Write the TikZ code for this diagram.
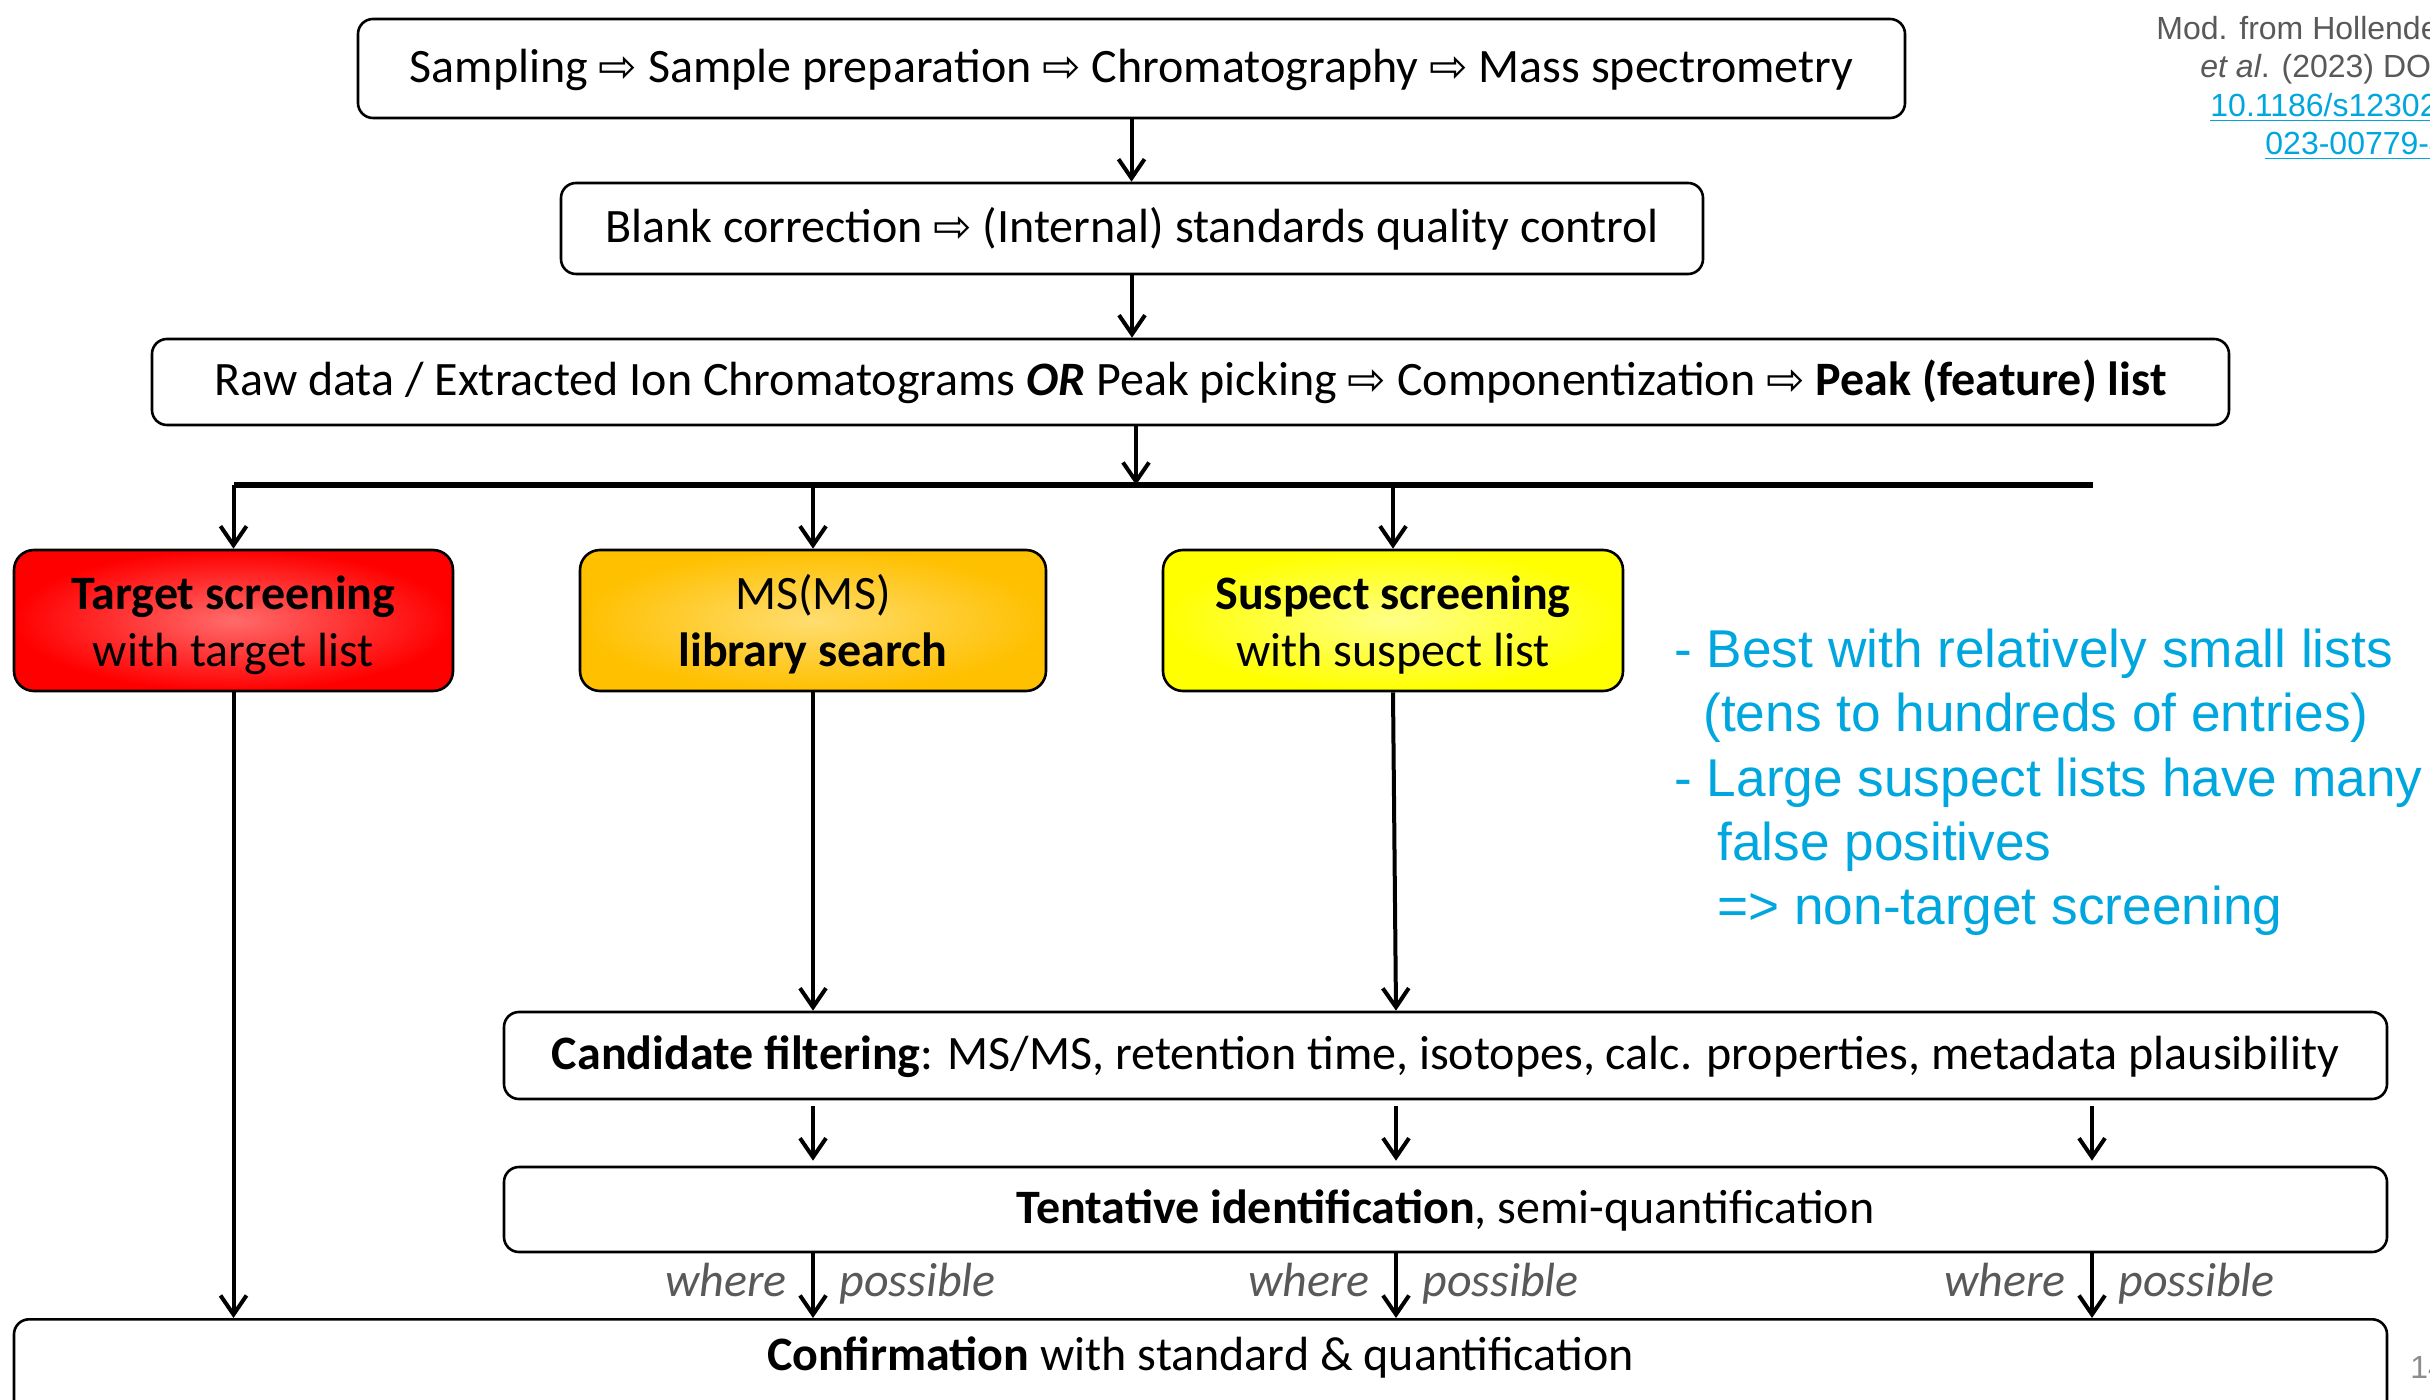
\documentclass[tikz,border=0pt]{standalone}
\usepackage{fontspec}
\setmainfont{Carlito}
\newfontfamily\arialfont{Liberation Sans}
\newfontfamily\arrowfont{DejaVu Sans}
\usetikzlibrary{arrows.meta}

\definecolor{tgtred}{HTML}{FF0000}
\definecolor{tgtcore}{HTML}{FF6B6B}
\definecolor{libgold}{HTML}{FFC000}
\definecolor{libcore}{HTML}{FFDD70}
\definecolor{susyel}{HTML}{FFFF00}
\definecolor{suscore}{HTML}{FFFF88}
\definecolor{noteblue}{HTML}{00A6DE}
\definecolor{refgray}{HTML}{595959}
\definecolor{pagegray}{HTML}{8C8C8C}

% white "then" arrow between workflow steps
\newcommand{\thento}{{\arrowfont\fontsize{23}{23}\selectfont ⇨}}
% extra room above the first line of the two-line boxes
\newcommand{\headroom}{\rule{0pt}{26pt}}

\begin{document}
\begin{tikzpicture}[x=0.5pt,y=-0.5pt,
  every node/.style={font=\fontsize{24}{28.5}\selectfont},
  stepbox/.style={draw, line width=1.3pt, rounded corners=7.5pt, inner sep=0pt, align=center},
  linebox/.style={stepbox, text height=18pt, text depth=4pt},
  shadedbox/.style={stepbox, rounded corners=10pt},
  arr/.style={line width=2pt, -{Straight Barb[length=9.5pt,width=13pt]}},
  busline/.style={line width=2.6pt, line cap=square},
  hint/.style={font=\fontsize{24}{28}\selectfont\itshape, text=refgray, inner sep=0pt},
  note/.style={font=\arialfont\fontsize{26.6}{32}\selectfont, text=noteblue, inner sep=0pt, anchor=base west},
  cite/.style={font=\arialfont\fontsize{16}{19}\selectfont, text=refgray, inner sep=0pt, anchor=base west},
]
\useasboundingbox (0,0) rectangle (2430,1400);
\clip (0,0) rectangle (2430,1400);
\fill[white] (0,0) rectangle (2430,1400);

% --- preprocessing chain
\node[linebox, minimum width=773.5pt, minimum height=49.5pt] (acq) at (1131.5,68.5)
  {Sampling \thento\ Sample preparation \thento\ Chromatography \thento\ Mass spectrometry};
\node[linebox, minimum width=571pt, minimum height=45.5pt] (qc) at (1132,228.5)
  {Blank correction \thento\ (Internal) standards quality control};
\node[linebox, minimum width=1038.5pt, minimum height=43pt] (peaks) at (1190.5,382)
  {Raw data / Extracted Ion Chromatograms \textbf{\textit{OR}} Peak picking \thento\ Componentization \thento\ \textbf{Peak (feature) list}};

% --- screening strategies
\node[shadedbox, inner color=tgtcore, outer color=tgtred, minimum width=219.5pt, minimum height=70.5pt] (target) at (233.5,620.5)
  {\headroom\textbf{Target screening}\\\strut with target list};
\node[shadedbox, inner color=libcore, outer color=libgold, minimum width=233pt, minimum height=70.5pt] (library) at (813,620.5)
  {\headroom MS(MS)\\\strut\textbf{library search}};
\node[shadedbox, inner color=suscore, outer color=susyel, minimum width=230pt, minimum height=70.5pt] (suspect) at (1393,620.5)
  {\headroom\textbf{Suspect screening}\\\strut with suspect list};

% --- identification steps
\node[linebox, minimum width=941.5pt, minimum height=43.5pt] (cand) at (1445.5,1055.5)
  {\textbf{Candidate filtering}: MS/MS, retention time, isotopes, calc. properties, metadata plausibility};
\node[linebox, minimum width=941.5pt, minimum height=42.5pt] (tent) at (1445.5,1209.5)
  {\textbf{Tentative identification}, semi-quantification};
\node[stepbox, anchor=north, minimum width=1186.5pt, text height=25.5pt, text depth=36.5pt] (conf) at (1200.5,1318)
  {\textbf{Confirmation} with standard \& quantification};

% --- connectors
\coordinate (split) at (1136,485);
\coordinate (busend) at (2093,485);
\coordinate (colA) at (813,0);
\coordinate (colB) at (1396,0);
\coordinate (colC) at (2092,0);

\draw[arr] (acq.south) -- (acq.south |- qc.north);
\draw[arr] (qc.south) -- (qc.south |- peaks.north);
\draw[arr] (split |- peaks.south) -- (split);
\draw[busline] (target.north |- split) -- (busend);
\draw[arr] (target.north |- split) -- (target.north);
\draw[arr] (library.north |- split) -- (library.north);
\draw[arr] (suspect.north |- split) -- (suspect.north);

\draw[arr] (target.south) -- (target.south |- conf.north);
\draw[arr] (library.south) -- (library.south |- cand.north);
\draw[arr] (suspect.south) -- (colB |- cand.north);

\foreach \c in {colA,colB,colC}
  \draw[arr, shorten <=3pt, shorten >=2.5pt] (\c |- cand.south) -- (\c |- tent.north);

\foreach \c/\n in {colA/a,colB/b,colC/c}{
  \draw[arr] (\c |- tent.south) -- (\c |- conf.north);
  \node[hint, anchor=base east, xshift=-13pt] (where\n) at (\c |- 0,1296) {where};
  \node[hint, anchor=base west, xshift=13pt] (possible\n) at (\c |- 0,1296) {possible};
}

% --- remarks on suspect lists
\node[note] (n1) at (1674,668) {- Best with relatively small lists};
\node[note] (n2) at (1703,732) {(tens to hundreds of entries)};
\node[note] (n3) at (1674,796) {- Large suspect lists have many};
\node[note] (n4) at (1717,860) {false positives};
\node[note] (n5) at (1717,924) {=> non-target screening};

% --- source reference and page number
\node[cite] (ref1) at (2156,40) {Mod. from Hollender};
\node[cite] (ref2) at (2200,78) {\textit{et al}. (2023) DOI:};
\node[cite, text=noteblue] (ref3) at (2210,117) {\underline{10.1186/s12302-}};
\node[cite, text=noteblue] (ref4) at (2265,155) {\underline{023-00779-4}};
\node[cite, text=pagegray] (pg) at (2410,1378) {14};
\end{tikzpicture}
\end{document}
